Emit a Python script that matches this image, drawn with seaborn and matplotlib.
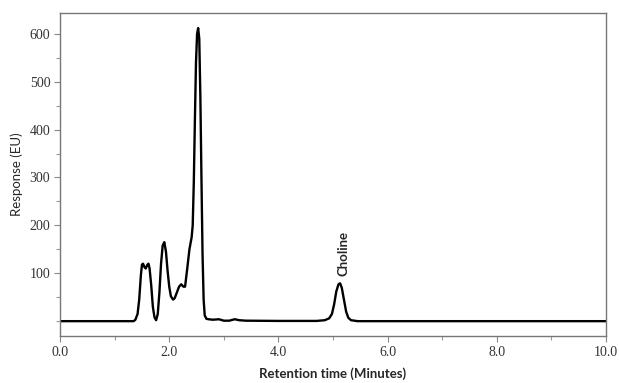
import matplotlib
matplotlib.use("Agg")
import matplotlib.pyplot as plt
import seaborn as sns
import pandas as pd
from matplotlib.ticker import MultipleLocator, FixedLocator

# Retention time (min) and detector response (EU)
time_min = [0.00, 1.00, 1.35, 1.38, 1.42, 1.45, 1.48, 1.50, 1.52, 1.55, 1.57, 1.60,
            1.62, 1.64, 1.67, 1.70, 1.73, 1.76, 1.79, 1.82, 1.85, 1.88, 1.91, 1.94,
            1.97, 2.00, 2.03, 2.07, 2.10, 2.14, 2.18, 2.22, 2.26, 2.29, 2.33, 2.37,
            2.41, 2.43, 2.45, 2.47, 2.49, 2.51, 2.53, 2.55, 2.57, 2.59, 2.61, 2.63,
            2.65, 2.68, 2.72, 2.80, 2.91, 3.00, 3.10, 3.20, 3.28, 3.40, 4.00, 4.70,
            4.85, 4.93, 4.98, 5.02, 5.06, 5.10, 5.13, 5.16, 5.20, 5.24, 5.28, 5.33,
            5.45, 10.00]
response = [0, 0, 0, 3, 15, 45, 95, 118, 120, 112, 110, 118,
            120, 110, 75, 30, 8, 2, 15, 60, 120, 158, 165, 145,
            105, 72, 52, 45, 48, 60, 72, 77, 72, 72, 110, 150,
            175, 200, 290, 420, 540, 600, 612, 590, 470, 300, 140, 45,
            12, 5, 4, 3, 4, 1, 1, 4, 2, 1, 0.5, 0.5,
            2, 6, 15, 35, 62, 77, 79, 70, 45, 20, 7, 2,
            0, 0]

peak_label = "Choline"
peak_label_pos = (5.20, 94)
x_ticks = [0, 2, 4, 6, 8, 10]
x_tick_labels = ["0.0", "2.0", "4.0", "6.0", "8.0", "10.0"]
y_ticks = [100, 200, 300, 400, 500, 600]

sns.set_style("ticks")
fig = plt.figure(figsize=(6.19, 3.83), dpi=100)
ax = fig.add_axes([0.097, 0.1227, 0.882, 0.844])

df = pd.DataFrame({"t": time_min, "r": response})
sns.lineplot(data=df, x="t", y="r", color="black", linewidth=1.7, ax=ax)

ax.set_xlim(0, 10)
ax.set_ylim(-31, 644)
ax.xaxis.set_major_locator(FixedLocator(x_ticks))
ax.set_xticklabels(x_tick_labels)
ax.xaxis.set_minor_locator(MultipleLocator(1))
ax.yaxis.set_major_locator(FixedLocator(y_ticks))
ax.yaxis.set_minor_locator(MultipleLocator(50))

for s in ax.spines.values():
    s.set_color("#777777")
    s.set_linewidth(1.0)
    s.set_visible(True)

ax.tick_params(axis="both", which="major", direction="out", length=4, width=0.8,
               color="#888888", labelsize=10, labelcolor="#333333", pad=3)
ax.tick_params(axis="both", which="minor", direction="out", length=3, width=0.8,
               color="#999999")
for lbl in ax.get_xticklabels() + ax.get_yticklabels():
    lbl.set_family("Liberation Serif")

ax.set_xlabel("Retention time (Minutes)", fontfamily="Lato", fontweight="bold",
              fontsize=9.5, labelpad=6)
ax.set_ylabel("Response (EU)", fontfamily="Lato", fontsize=9.5, labelpad=5)

ax.text(peak_label_pos[0], peak_label_pos[1], peak_label, rotation=90,
        ha="center", va="bottom", fontfamily="Lato", fontweight="bold", fontsize=9.5)

fig.savefig("out.png", dpi=100)
